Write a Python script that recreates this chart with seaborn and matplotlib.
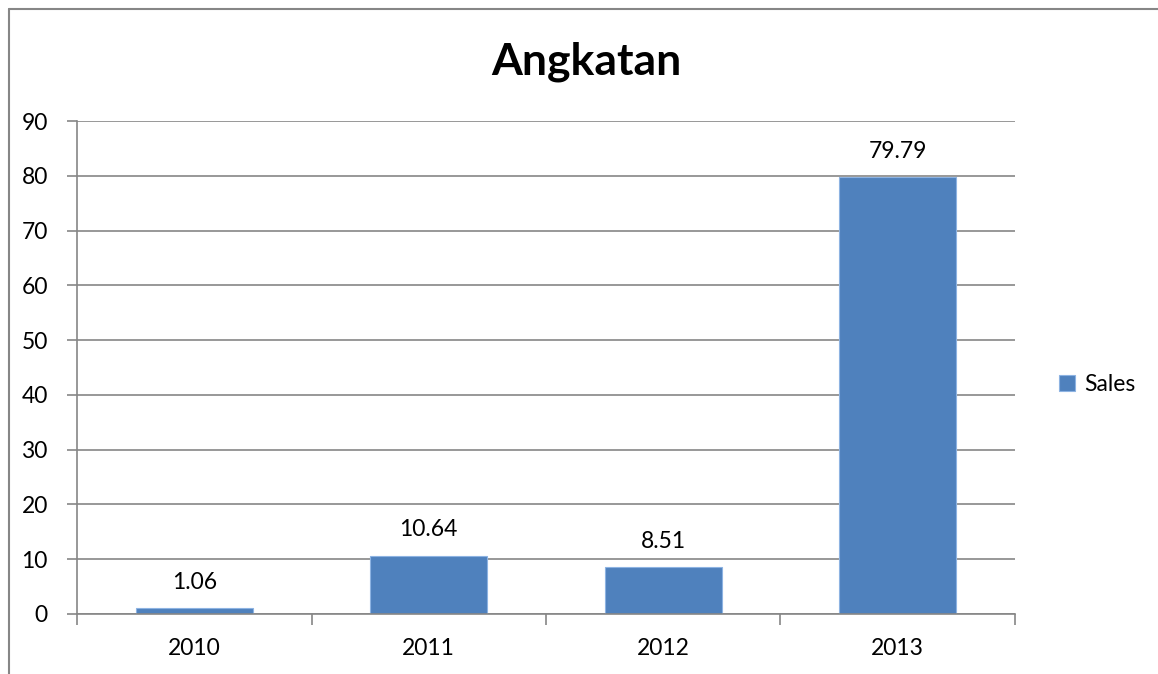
import matplotlib
matplotlib.use("Agg")
import matplotlib.pyplot as plt
from matplotlib.lines import Line2D
import seaborn as sns
import pandas as pd

years = ["2010", "2011", "2012", "2013"]
sales = [1.06, 10.64, 8.51, 79.79]
series_name = "Sales"
title = "Angkatan"
y_ticks = [0, 10, 20, 30, 40, 50, 60, 70, 80, 90]

sns.set_theme(style="white")
plt.rcParams["font.family"] = ["Lato", "DejaVu Sans"]

df = pd.DataFrame({"Year": years, "Value": sales, "Series": series_name})

fig = plt.figure(figsize=(11.58, 6.74), dpi=100)
ax = fig.add_axes([77 / 1158, 1 - 614 / 674, (1015 - 77) / 1158, (614 - 121) / 674])

bar_color = "#4F81BD"
sns.barplot(data=df, x="Year", y="Value", hue="Series", palette=[bar_color],
            saturation=1, width=0.5, ax=ax, edgecolor="#8DB3E2", linewidth=0.8, legend=True)

ax.set_xlim(-0.5, 3.5)
ax.set_ylim(0, 90)
ax.set_yticks(y_ticks)
ax.set_xlabel("")
ax.set_ylabel("")

grid_c = "#868686"
ax.yaxis.grid(True, color=grid_c, linewidth=1.2)
ax.set_axisbelow(True)
for s in ["top", "right"]:
    ax.spines[s].set_visible(False)
for s in ["left", "bottom"]:
    ax.spines[s].set_color(grid_c)
    ax.spines[s].set_linewidth(1.2)

fs = 16.5
ax.tick_params(axis="y", which="major", left=True, length=7, width=1.2, color=grid_c,
               labelsize=fs, labelcolor="black", pad=14)
ax.tick_params(axis="x", which="major", bottom=False, labelsize=fs, labelcolor="black", pad=11)
ax.set_xticks([-0.5, 0.5, 1.5, 2.5, 3.5], minor=True)
ax.tick_params(axis="x", which="minor", bottom=True, length=8, width=1.2, color=grid_c)

for c in ax.containers:
    ax.bar_label(c, fmt="%.2f", padding=11, fontsize=fs, color="black")

fig.text(586 / 1158, 1 - 62 / 674, title, fontsize=32, fontweight="bold",
         color="black", ha="center", va="center")

leg = ax.legend(loc="center left", bbox_to_anchor=(1.025, 0.465), frameon=False,
                fontsize=fs, handlelength=0.7, handleheight=0.7, handletextpad=0.4)
for t in leg.get_texts():
    t.set_color("black")

# chart area border (left and top edges visible)
fig.add_artist(Line2D([9 / 1158, 9 / 1158], [0, 1 - 9 / 674], transform=fig.transFigure,
                      color="#868686", linewidth=1.5))
fig.add_artist(Line2D([9 / 1158, 1], [1 - 9 / 674, 1 - 9 / 674], transform=fig.transFigure,
                      color="#868686", linewidth=1.5))

fig.savefig("out.png", dpi=100)
